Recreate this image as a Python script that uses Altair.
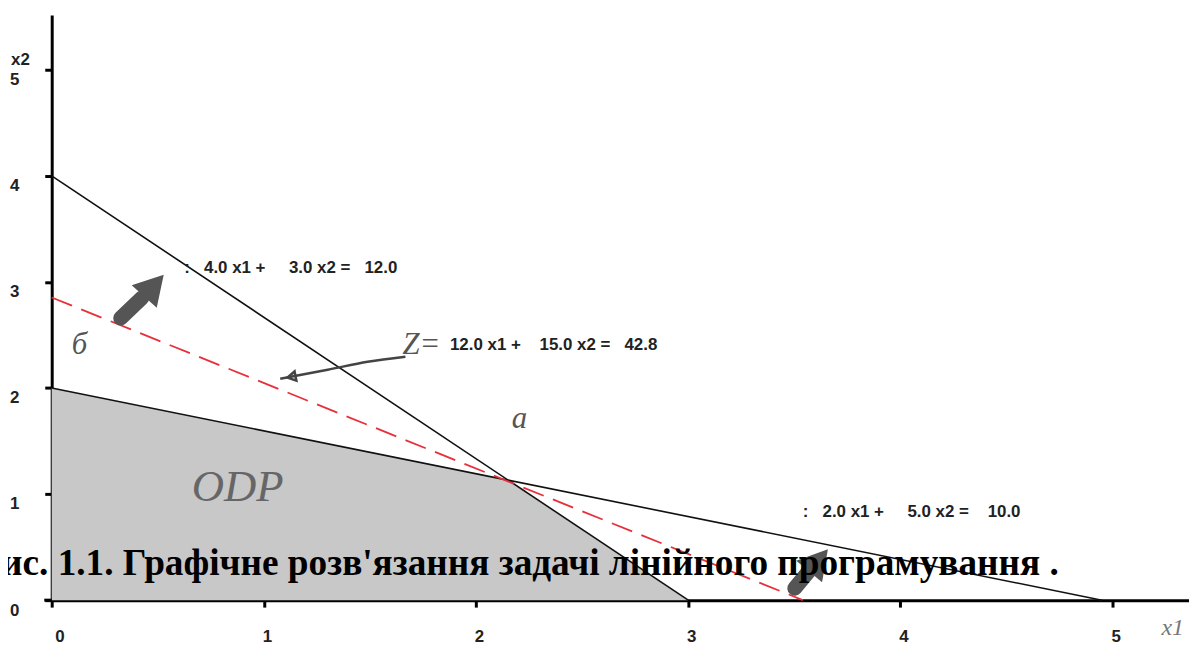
import altair as alt
import pandas as pd

# ---- data ----
# feasible region (ОДР) polygon
odr_x = [0.0, 2.14, 3.0]
odr_y = [2.0, 1.14, 0.0]
# constraint 4x1 + 3x2 = 12
c1_x = [0.0, 3.0]
c1_y = [4.0, 0.0]
# constraint 2x1 + 5x2 = 10
c2_x = [0.0, 4.95]
c2_y = [2.0, 0.0]
# objective line Z = 42.8 (dashed)
z_x = [0.0, 3.54]
z_y = [2.853, 0.0]

x_ticks = [0, 1, 2, 3, 4, 5]
y_ticks = [0, 1, 2, 3, 4, 5]

S = "\u00a0"
eq_texts = [":" + S * 3 + "4.0 x1 +" + S * 5 + "3.0 x2 =" + S * 3 + "12.0",
            "12.0 x1 +" + S * 4 + "15.0 x2 =" + S * 3 + "42.8",
            ":" + S * 3 + "2.0 x1 +" + S * 5 + "5.0 x2 =" + S * 4 + "10.0"]
eq_x = [0.625, 1.877, 3.54]
eq_y = [3.127, 2.406, 0.83]

it_texts = ["б", "a", "Z="]
it_x = [0.095, 2.168, 1.653]
it_y = [2.406, 1.704, 2.406]

odp_text = ["ODP"]
odp_x = [0.66]
odp_y = [1.067]

x1_label = ["x1"]
x1_lx = [5.23]
x1_ly = [-0.26]

caption = ["Рис. 1.1. Графічне розв'язання задачі лінійного програмування ."]
cap_x = [-0.346]
cap_y = [0.234]

# hand-drawn arrows (shaft points and head position/angle)
arrow1_x = [0.325, 0.425]
arrow1_y = [2.659, 2.85]
arrow2_x = [3.502, 3.572]
arrow2_y = [0.112, 0.281]
head_x = [0.482, 3.614]
head_y = [2.965, 0.375]
head_angle = [42, 40]
pointer_x = [1.667, 1.489, 1.301, 1.077]
pointer_y = [2.294, 2.247, 2.172, 2.088]
ptr_head_x = [1.13]
ptr_head_y = [2.105]

axis_ext_x = [-0.035, 0.0]
axis_ext_y = [0.0, 0.0]

# ---- chart ----
xs = alt.Scale(domain=[0, 5.36], nice=False, zero=False)
ys = alt.Scale(domain=[0, 5.515], nice=False, zero=False)

LABEL_FONT = "Liberation Sans"

x_axis = alt.Axis(values=x_ticks, title=None, labelPadding=22, labelOffset=3, format="d")
y_axis = alt.Axis(values=y_ticks, title="x2", labelPadding=26, labelOffset=10, format="d",
                  titleAngle=0, titleX=-32, titleY=45, titleAlign="center",
                  titleBaseline="middle")

ENC = dict(x=alt.X("x:Q", scale=xs, axis=x_axis),
           y=alt.Y("y:Q", scale=ys, axis=y_axis))


def base(xv, yv, **extra):
    d = {"x": xv, "y": yv}
    d.update(extra)
    return alt.Chart(pd.DataFrame(d))


odr = base(odr_x, odr_y).mark_area(color="#c8c8c8", opacity=1).encode(**ENC)

c1 = base(c1_x, c1_y).mark_line(color="#111", strokeWidth=1.6).encode(**ENC)
c2 = base(c2_x, c2_y).mark_line(color="#111", strokeWidth=1.6).encode(**ENC)
zl = base(z_x, z_y).mark_line(color="#e8303a", strokeWidth=1.8,
                              strokeDash=[22, 10]).encode(**ENC)

ext = base(axis_ext_x, axis_ext_y).mark_line(color="black", strokeWidth=3).encode(**ENC)

eqs = base(eq_x, eq_y, t=eq_texts).mark_text(
    align="left", baseline="middle", font=LABEL_FONT, fontSize=17, fontWeight="bold",
    color="#222").encode(**ENC, text="t:N")

its = base(it_x, it_y, t=it_texts).mark_text(
    align="left", baseline="middle", font="Liberation Serif", fontSize=31, fontStyle="italic",
    color="#555").encode(**ENC, text="t:N")

odp = base(odp_x, odp_y, t=odp_text).mark_text(
    align="left", baseline="middle", font="Liberation Serif", fontSize=45, fontStyle="italic",
    color="#666").encode(**ENC, text="t:N")

x1l = base(x1_lx, x1_ly, t=x1_label).mark_text(
    align="left", baseline="middle", font="Liberation Serif", fontSize=24, fontStyle="italic",
    color="#777").encode(**ENC, text="t:N")

a1 = base(arrow1_x, arrow1_y).mark_line(color="#555", strokeWidth=15,
                                        strokeCap="round").encode(**ENC)
a2 = base(arrow2_x, arrow2_y).mark_line(color="#555", strokeWidth=15,
                                        strokeCap="round").encode(**ENC)
heads = base(head_x, head_y, a=head_angle).mark_point(
    shape="triangle-up", filled=True, color="#555", opacity=1, size=1150,
    strokeJoin="round").encode(**ENC, angle=alt.Angle("a:Q", scale=None))
ptr = base(pointer_x, pointer_y).mark_line(
    color="#444", strokeWidth=2.5, interpolate="monotone").encode(**ENC)
ptr_head = base(ptr_head_x, ptr_head_y).mark_point(
    shape="triangle-up", filled=False, color="#444", strokeWidth=2.5, size=90,
    angle=259, opacity=1).encode(**ENC)

cap = base(cap_x, cap_y, t=caption).mark_text(
    align="left", baseline="alphabetic", font="Liberation Serif", fontSize=37.5,
    fontWeight="bold", color="black").encode(**ENC, text="t:N")

chart = alt.layer(odr, c1, c2, zl, ext, eqs, its, odp, x1l, a1, a2, heads, ptr, ptr_head, cap).properties(
    width=1145, height=589,
    padding={"left": 44, "top": 5, "right": 0, "bottom": 46},
    autosize=alt.AutoSizeParams(type="none"),
    background="white",
).configure_view(stroke=None).configure_axis(
    grid=False, domainColor="black", domainWidth=3,
    tickColor="black", tickWidth=3, tickSize=7,
    labelFont=LABEL_FONT, labelFontWeight="bold", labelFontSize=17, labelColor="#222",
    titleFont=LABEL_FONT, titleFontSize=17, titleFontWeight="bold", titleColor="#222",
)

chart.save("out.html", embed_options={"renderer": "svg", "actions": False})
